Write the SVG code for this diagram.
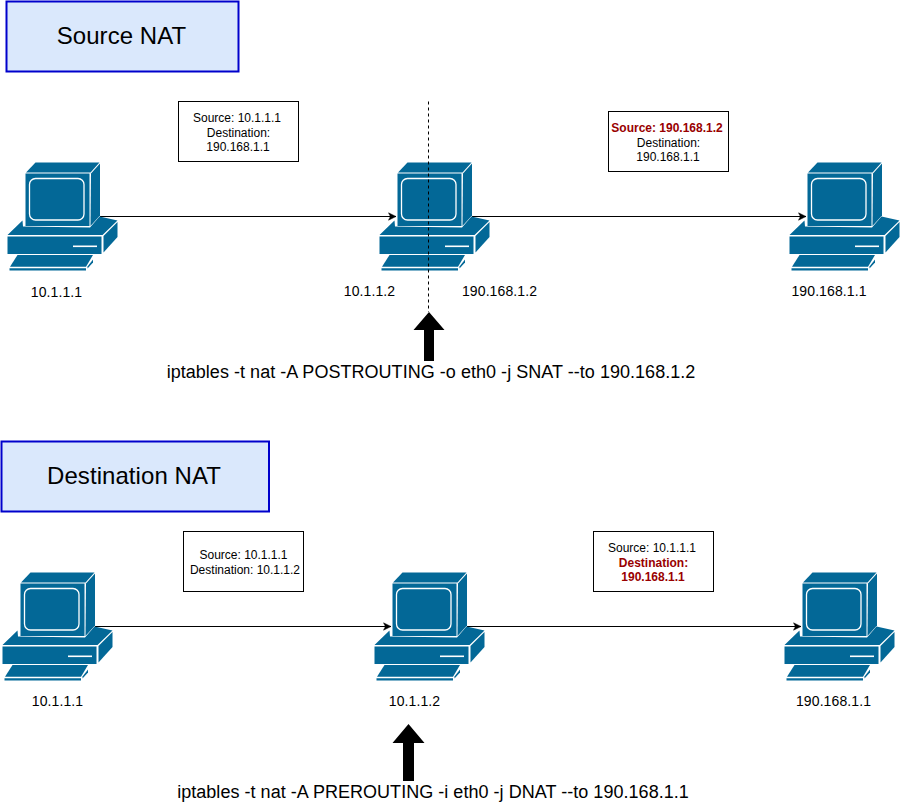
<svg xmlns="http://www.w3.org/2000/svg" xmlns:xlink="http://www.w3.org/1999/xlink" width="901" height="802" viewBox="0 0 901 802">
<style>
text{font-family:"Liberation Sans",Arial,sans-serif;fill:#000;text-anchor:middle}
.title{font-size:24px;letter-spacing:.06px}.lbl{font-size:14px;letter-spacing:.1px}.box{font-size:12px}.cmd{font-size:18px;letter-spacing:.035px}
.red{fill:#990000;font-weight:bold}
.hd{fill:#dae8fc;stroke:#0000cc;stroke-width:2}
.note{fill:#fff;stroke:#000;stroke-width:1}
.c{fill:none;stroke:#000;stroke-width:1}
.pc{fill:#036897}
</style>
<defs>
<marker id="a" markerWidth="10" markerHeight="10" refX="8" refY="5" orient="auto" markerUnits="userSpaceOnUse"><path d="M0.5 1.300L8 5L0.500 8.700L2.400 5Z" fill="#000" stroke="#000" stroke-width="0.5"/></marker>
<symbol id="pc" width="130" height="130" viewBox="0 150 130 130" overflow="visible">
<path class="pc" d="M7.5 235L22.5 220.500L23 226.500L90 227.500L99.500 216.500L117.500 220.500L102.500 235Z"/>
<path class="pc" d="M7.5 236.500H101.500V254H7.500Z"/>
<path class="pc" d="M103.500 236L117.500 222V237L103.500 252.500Z"/>
<path d="M73 246.300H97" stroke="#fff" stroke-width="1.600" fill="none"/>
<path class="pc" d="M10 266.700L17.500 255H93L86 266.700Z"/>
<path class="pc" d="M9.500 268.300H86V270.500H9.500Z"/>
<path class="pc" d="M87.500 266.500L93 259.500V262.500L87.500 268.500Z"/>
<path class="pc" d="M26 172.500L35.500 162.500H99.500L90.500 172.500Z"/>
<path class="pc" d="M25.500 173.500H89.500V226H25.500Z"/>
<path class="pc" d="M91 173.500L100 163.500V215.500L90.500 226Z"/>
<rect x="29.500" y="178.500" width="54.500" height="41.500" rx="6" fill="none" stroke="#fff" stroke-width="1.300"/>
</symbol>
</defs>
<g id="connectors">
<path class="c" d="M100 216.500H396" marker-end="url(#a)"/>
<path class="c" d="M472 216.500H806" marker-end="url(#a)"/>
<path class="c" d="M95 626.500H391" marker-end="url(#a)"/>
<path class="c" d="M467 626.500H801" marker-end="url(#a)"/>
</g>
<g id="pc1"><use href="#pc" xlink:href="#pc" x="0" y="150"/><text class="lbl" x="56.500" y="297">10.1.1.1</text></g>
<g id="pc2"><use href="#pc" xlink:href="#pc" x="372" y="150"/><text class="lbl" x="369.500" y="296">10.1.1.2</text><text class="lbl" x="499.500" y="296">190.168.1.2</text></g>
<g id="pc3"><use href="#pc" xlink:href="#pc" x="782" y="150"/><text class="lbl" x="829" y="296">190.168.1.1</text></g>
<g id="pc4"><use href="#pc" xlink:href="#pc" x="-5" y="560"/><text class="lbl" x="57.500" y="706">10.1.1.1</text></g>
<g id="pc5"><use href="#pc" xlink:href="#pc" x="367" y="560"/><text class="lbl" x="414.500" y="706">10.1.1.2</text></g>
<g id="pc6"><use href="#pc" xlink:href="#pc" x="777" y="560"/><text class="lbl" x="833.500" y="706">190.168.1.1</text></g>
<path class="c" d="M428.500 101.500V312" stroke-dasharray="3 3"/>
<g id="title-snat"><rect class="hd" x="6.500" y="1.500" width="232" height="70"/><text class="title" x="121.500" y="44">Source NAT</text></g>
<g id="title-dnat"><rect class="hd" x="1.500" y="441.500" width="267.500" height="70"/><text class="title" x="134" y="484">Destination NAT</text></g>
<g id="note1"><rect class="note" x="178.500" y="101.500" width="120" height="60"/><text class="box" x="237" y="122">Source: 10.1.1.1</text><text class="box" x="238.500" y="137">Destination:</text><text class="box" x="238" y="151">190.168.1.1</text></g>
<g id="note2"><rect class="note" x="608.500" y="111.500" width="120" height="60"/><text class="box red" x="667" y="132">Source: 190.168.1.2</text><text class="box" x="668.500" y="147">Destination:</text><text class="box" x="668" y="161">190.168.1.1</text></g>
<g id="note3"><rect class="note" x="183.500" y="531.500" width="120" height="60"/><text class="box" x="243.500" y="559">Source: 10.1.1.1</text><text class="box" x="245" y="574">Destination: 10.1.1.2</text></g>
<g id="note4"><rect class="note" x="593.500" y="531.500" width="120" height="60"/><text class="box" x="652" y="552">Source: 10.1.1.1</text><text class="box red" x="653.500" y="567">Destination:</text><text class="box red" x="653" y="581">190.168.1.1</text></g>
<g id="arrow1"><path d="M424 361V330H413.500L429 312L444.500 330H434V361Z" fill="#000"/></g>
<g id="arrow2"><path d="M403 781V743H392.500L408.500 724L424.500 743H414V781Z" fill="#000"/></g>
<text class="cmd" x="431" y="378">iptables -t nat -A POSTROUTING -o eth0 -j SNAT --to 190.168.1.2</text>
<text class="cmd" x="433" y="798">iptables -t nat -A PREROUTING -i eth0 -j DNAT --to 190.168.1.1</text>
</svg>
